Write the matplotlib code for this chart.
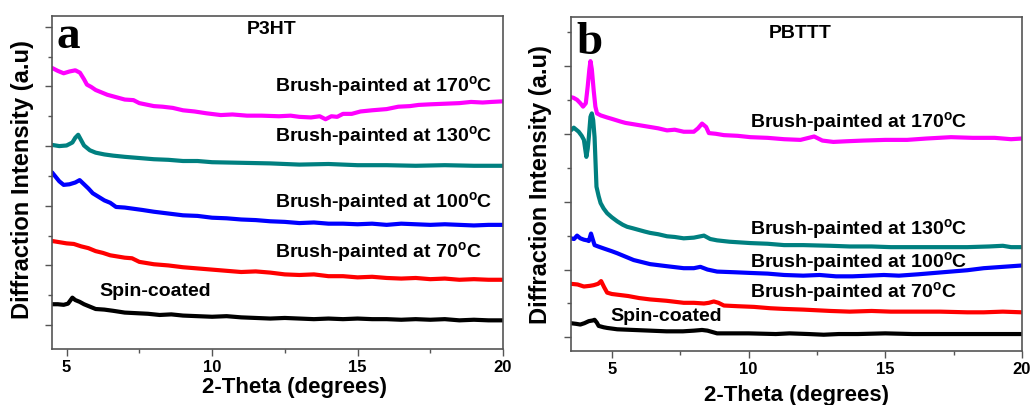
import matplotlib
matplotlib.use("Agg")
import matplotlib.pyplot as plt
from matplotlib.ticker import MultipleLocator, NullFormatter

plt.rcParams['font.family'] = ['Liberation Sans', 'DejaVu Sans']
plt.rcParams['font.weight'] = 'bold'
plt.rcParams['mathtext.fontset'] = 'custom'
plt.rcParams['mathtext.rm'] = 'Liberation Sans'
plt.rcParams['mathtext.bf'] = 'Liberation Sans:bold'

# ---------------- Panel a : P3HT ----------------
a_spin_x = [4.5, 4.7, 4.9, 5.05, 5.2, 5.3, 5.45, 5.6, 5.8, 6.0, 6.3, 6.6, 7.0, 7.4, 7.8, 8.2, 8.6, 9.0, 9.5, 10.0,
            10.5, 11.0, 11.5, 12.0, 12.5, 13.0, 13.5, 14.0, 14.5, 15.0, 15.5, 16.0, 16.5, 17.0, 17.5, 18.0, 18.5,
            19.0, 19.5, 20.0]
a_spin_y = [1.35, 1.35, 1.34, 1.36, 1.46, 1.42, 1.39, 1.35, 1.31, 1.27, 1.26, 1.24, 1.21, 1.20, 1.19, 1.17, 1.18,
            1.16, 1.15, 1.14, 1.15, 1.13, 1.12, 1.11, 1.12, 1.11, 1.10, 1.11, 1.10, 1.11, 1.10, 1.10, 1.09, 1.10,
            1.09, 1.10, 1.08, 1.09, 1.08, 1.08]

a_70_x = [4.5, 4.75, 5.0, 5.25, 5.5, 5.75, 6.0, 6.25, 6.5, 6.75, 7.0, 7.25, 7.5, 7.75, 8.0, 8.5, 9.0, 9.5, 10, 10.5,
          11, 11.5, 12, 12.5, 13, 13.5, 14, 14.5, 15, 15.5, 16, 16.5, 17, 17.5, 18, 18.5, 19, 19.5, 20]
a_70_y = [2.41, 2.39, 2.37, 2.36, 2.32, 2.29, 2.24, 2.21, 2.17, 2.15, 2.13, 2.12, 2.06, 2.04, 2.02, 2.00, 1.97, 1.95,
          1.93, 1.91, 1.89, 1.90, 1.88, 1.85, 1.84, 1.85, 1.82, 1.82, 1.80, 1.81, 1.79, 1.78, 1.79, 1.77, 1.78, 1.76,
          1.77, 1.76, 1.76]

a_100_x = [4.5, 4.6, 4.75, 4.9, 5.1, 5.3, 5.45, 5.6, 5.75, 5.9, 6.1, 6.3, 6.5, 6.7, 7.0, 7.3, 7.6, 8.0, 8.5, 9.0,
           9.5, 10, 10.5, 11, 11.5, 12, 12.5, 13, 13.5, 14, 14.5, 15, 15.5, 16, 16.5, 17, 17.5, 18, 18.5, 19, 19.5, 20]
a_100_y = [3.56, 3.50, 3.41, 3.35, 3.36, 3.39, 3.43, 3.36, 3.29, 3.21, 3.15, 3.09, 3.05, 2.98, 2.97, 2.95, 2.93,
           2.90, 2.87, 2.84, 2.83, 2.80, 2.79, 2.77, 2.76, 2.74, 2.73, 2.71, 2.72, 2.70, 2.70, 2.69, 2.70, 2.68,
           2.70, 2.69, 2.68, 2.69, 2.68, 2.67, 2.68, 2.68]

a_130_x = [4.5, 4.75, 5.0, 5.2, 5.3, 5.4, 5.5, 5.6, 5.8, 6.0, 6.3, 6.6, 7.0, 7.5, 8.0, 8.5, 9.0, 9.5, 10, 11, 12, 13,
           14, 15, 16, 17, 18, 19, 20]
a_130_y = [4.02, 4.00, 4.01, 4.06, 4.14, 4.19, 4.10, 4.01, 3.93, 3.89, 3.86, 3.84, 3.82, 3.80, 3.78, 3.77, 3.75,
           3.75, 3.73, 3.72, 3.71, 3.69, 3.70, 3.68, 3.68, 3.67, 3.68, 3.67, 3.67]

a_170_x = [4.5, 4.7, 4.9, 5.1, 5.3, 5.46, 5.6, 5.7, 5.85, 6.0, 6.2, 6.4, 6.7, 7.0, 7.3, 7.5, 7.8, 8.0, 8.3, 8.65,
           9.0, 9.4, 9.8, 10.3, 10.7, 11.2, 11.7, 12.3, 12.7, 13.0, 13.4, 13.7, 13.9, 14.1, 14.3, 14.5, 14.8, 15.1,
           15.5, 16.0, 16.4, 16.8, 17.1, 17.5, 18.0, 18.5, 18.9, 19.3, 19.6, 20.0]
a_170_y = [5.31, 5.26, 5.22, 5.25, 5.27, 5.23, 5.12, 5.03, 4.99, 4.94, 4.90, 4.86, 4.82, 4.78, 4.77, 4.72, 4.69,
           4.67, 4.66, 4.64, 4.60, 4.58, 4.55, 4.52, 4.53, 4.51, 4.51, 4.50, 4.51, 4.49, 4.48, 4.50, 4.45, 4.50,
           4.49, 4.54, 4.54, 4.58, 4.60, 4.62, 4.66, 4.67, 4.69, 4.70, 4.71, 4.72, 4.74, 4.73, 4.74, 4.75]

# ---------------- Panel b : PBTTT ----------------
b_spin_x = [3.5, 3.7, 3.85, 4.0, 4.16, 4.3, 4.37, 4.45, 4.52, 4.7, 4.83, 5.2, 5.8, 6.4, 7.0, 7.6, 8.0, 8.3, 8.5,
            8.85, 9.5, 10, 11, 11.5, 12.2, 12.75, 13.3, 14, 15, 16, 17, 18, 19, 20]
b_spin_y = [1.21, 1.20, 1.19, 1.21, 1.24, 1.25, 1.26, 1.22, 1.17, 1.15, 1.14, 1.12, 1.11, 1.10, 1.09, 1.09, 1.10,
            1.11, 1.10, 1.06, 1.06, 1.06, 1.05, 1.06, 1.05, 1.04, 1.05, 1.05, 1.06, 1.05, 1.05, 1.05, 1.05, 1.05]

b_70_x = [3.5, 3.75, 3.98, 4.2, 4.34, 4.5, 4.61, 4.72, 4.83, 5.0, 5.2, 5.6, 6.0, 6.4, 7.0, 7.63, 8.0, 8.37, 8.55,
          8.73, 8.9, 9.1, 9.6, 10.2, 10.8, 11.3, 12, 13, 13.7, 14.5, 15.2, 16.2, 17, 18, 18.6, 19.3, 20]
b_70_y = [1.79, 1.78, 1.75, 1.76, 1.77, 1.79, 1.83, 1.74, 1.66, 1.64, 1.63, 1.61, 1.58, 1.56, 1.54, 1.51, 1.51,
          1.50, 1.51, 1.53, 1.51, 1.47, 1.46, 1.45, 1.43, 1.42, 1.41, 1.39, 1.38, 1.39, 1.38, 1.38, 1.38, 1.37,
          1.37, 1.38, 1.37]

b_100_x = [3.5, 3.62, 3.73, 3.85, 3.98, 4.1, 4.16, 4.24, 4.3, 4.37, 4.5, 4.71, 5.0, 5.2, 5.5, 5.8, 6.1, 6.4, 7.0,
           7.63, 8.0, 8.24, 8.5, 8.85, 9.5, 10.07, 10.7, 11.3, 12.0, 12.6, 13.2, 13.8, 14.4, 14.95, 15.5, 16.2,
           16.8, 17.4, 18.0, 18.6, 19.3, 20]
b_100_y = [2.46, 2.45, 2.50, 2.46, 2.44, 2.43, 2.42, 2.53, 2.45, 2.36, 2.34, 2.31, 2.27, 2.24, 2.19, 2.14, 2.11,
           2.08, 2.05, 2.02, 2.02, 2.04, 2.00, 1.97, 1.96, 1.95, 1.94, 1.92, 1.91, 1.92, 1.90, 1.90, 1.91, 1.92,
           1.91, 1.93, 1.95, 1.97, 1.99, 2.02, 2.04, 2.06]

b_130_x = [3.5, 3.61, 3.7, 3.79, 3.9, 3.98, 4.07, 4.12, 4.16, 4.22, 4.27, 4.32, 4.37, 4.44, 4.52, 4.59, 4.7, 4.83,
           5.0, 5.2, 5.4, 5.56, 5.75, 5.93, 6.2, 6.4, 6.7, 7.02, 7.3, 7.63, 8.0, 8.37, 8.6, 8.85, 9.3, 10.07, 10.7,
           11.3, 12.0, 13.0, 13.7, 14.5, 15.2, 16.2, 17.0, 18.0, 18.8, 19.3, 19.6, 20]
b_130_y = [4.05, 4.09, 4.06, 4.03, 3.97, 3.91, 3.66, 3.78, 3.95, 4.25, 4.30, 4.20, 3.95, 3.22, 3.08, 2.98, 2.90,
           2.83, 2.77, 2.71, 2.66, 2.63, 2.61, 2.59, 2.56, 2.54, 2.52, 2.49, 2.48, 2.46, 2.47, 2.50, 2.45, 2.43,
           2.41, 2.39, 2.38, 2.36, 2.36, 2.35, 2.34, 2.34, 2.33, 2.33, 2.33, 2.33, 2.34, 2.35, 2.33, 2.33]

b_170_x = [3.5, 3.6, 3.73, 3.85, 3.95, 4.05, 4.12, 4.18, 4.22, 4.27, 4.34, 4.4, 4.46, 4.6, 4.83, 5.0, 5.32, 5.5,
           5.8, 6.1, 6.4, 6.7, 7.02, 7.3, 7.63, 8.0, 8.15, 8.3, 8.45, 8.55, 8.8, 9.1, 9.6, 10.07, 10.7, 11.3, 11.9,
           12.4, 12.7, 13.1, 13.6, 14.2, 15.0, 15.8, 16.5, 17.4, 18.2, 19.0, 19.6, 20]
b_170_y = [4.54, 4.53, 4.50, 4.45, 4.40, 4.45, 4.70, 4.95, 5.07, 4.95, 4.63, 4.40, 4.30, 4.27, 4.24, 4.22, 4.18,
           4.16, 4.14, 4.12, 4.10, 4.08, 4.05, 4.06, 4.03, 4.03, 4.08, 4.15, 4.10, 4.01, 4.00, 3.98, 3.97, 3.95,
           3.94, 3.92, 3.91, 3.96, 3.90, 3.88, 3.89, 3.90, 3.91, 3.91, 3.93, 3.95, 3.94, 3.94, 3.92, 3.93]

labels = ["Spin-coated",
          "Brush-painted at 70$^\\mathrm{o}$C",
          "Brush-painted at 100$^\\mathrm{o}$C",
          "Brush-painted at 130$^\\mathrm{o}$C",
          "Brush-painted at 170$^\\mathrm{o}$C"]
colors = ["#000000", "#ff0000", "#0000ff", "#008080", "#ff00ff"]

xticks_major = [5, 10, 15, 20]

fig = plt.figure(figsize=(10.34, 4.05), dpi=100)
axA = fig.add_axes([0.0503, 0.1383, 0.4362, 0.8222])
axB = fig.add_axes([0.5520, 0.1333, 0.4364, 0.8247])

panels = [
    (axA, [(a_spin_x, a_spin_y), (a_70_x, a_70_y), (a_100_x, a_100_y), (a_130_x, a_130_y), (a_170_x, a_170_y)],
     (4.5, 20), (0.6, 6.18), "P3HT", "a",
     [(6.13, 1.49), (12.17, 2.12), (12.17, 2.96), (12.17, 4.07), (12.17, 4.91)], (12.06, 5.87), (4.67, 5.64)),
    (axB, [(b_spin_x, b_spin_y), (b_70_x, b_70_y), (b_100_x, b_100_y), (b_130_x, b_130_y), (b_170_x, b_170_y)],
     (3.5, 20), (0.80, 5.72), "PBTTT", "b",
     [(4.95, 1.24), (10.04, 1.58), (10.07, 2.02), (10.07, 2.51), (10.07, 4.08)], (11.9, 5.41), (3.72, 5.17)),
]

spine_col = "#555555"
for ax, series, xl, yl, title, letter, lab_pos, title_pos, letter_pos in panels:
    for (xs, ys), c in zip(series, colors):
        ax.plot(xs, ys, color=c, lw=3.0, solid_joinstyle='round', solid_capstyle='round')
    ax.set_xlim(*xl)
    ax.set_ylim(*yl)
    ax.xaxis.set_minor_locator(MultipleLocator(2.5))
    ax.yaxis.set_major_locator(MultipleLocator(1))
    ax.yaxis.set_minor_locator(MultipleLocator(0.5))
    ax.yaxis.set_major_formatter(NullFormatter())
    ax.set_xticks(xticks_major)
    ax.set_xticklabels([str(v) for v in xticks_major], fontsize=12, fontweight='bold')
    ax.tick_params(axis='both', which='major', direction='out', length=5, width=1, color=spine_col, pad=3)
    ax.tick_params(axis='both', which='minor', direction='out', length=3, width=1, color=spine_col)
    for s in ax.spines.values():
        s.set_color(spine_col)
        s.set_linewidth(1.2)
    for (tx, ty), lab in zip(lab_pos, labels):
        ax.text(tx, ty, lab, fontsize=14, fontweight='bold', ha='left', va='baseline')
    ax.text(title_pos[0], title_pos[1], title, fontsize=14, fontweight='bold', ha='center', va='baseline')
    ax.text(letter_pos[0], letter_pos[1], letter, fontsize=34, fontweight='bold', ha='left', va='baseline',
            family='Liberation Serif')

fig.text(23 / 1034, 1 - 180 / 405, "Diffraction Intensity (a.u)", rotation=90, fontsize=17, fontweight='bold',
         ha='center', va='center')
fig.text(540 / 1034, 1 - 185 / 405, "Diffraction Intensity (a.u)", rotation=90, fontsize=17, fontweight='bold',
         ha='center', va='center')
fig.text(294 / 1034, 1 - 388 / 405, "2-Theta (degrees)", fontsize=16, fontweight='bold', ha='center', va='center')
fig.text(796 / 1034, 1 - 396 / 405, "2-Theta (degrees)", fontsize=16, fontweight='bold', ha='center', va='center')

fig.savefig("out.png", dpi=100)
